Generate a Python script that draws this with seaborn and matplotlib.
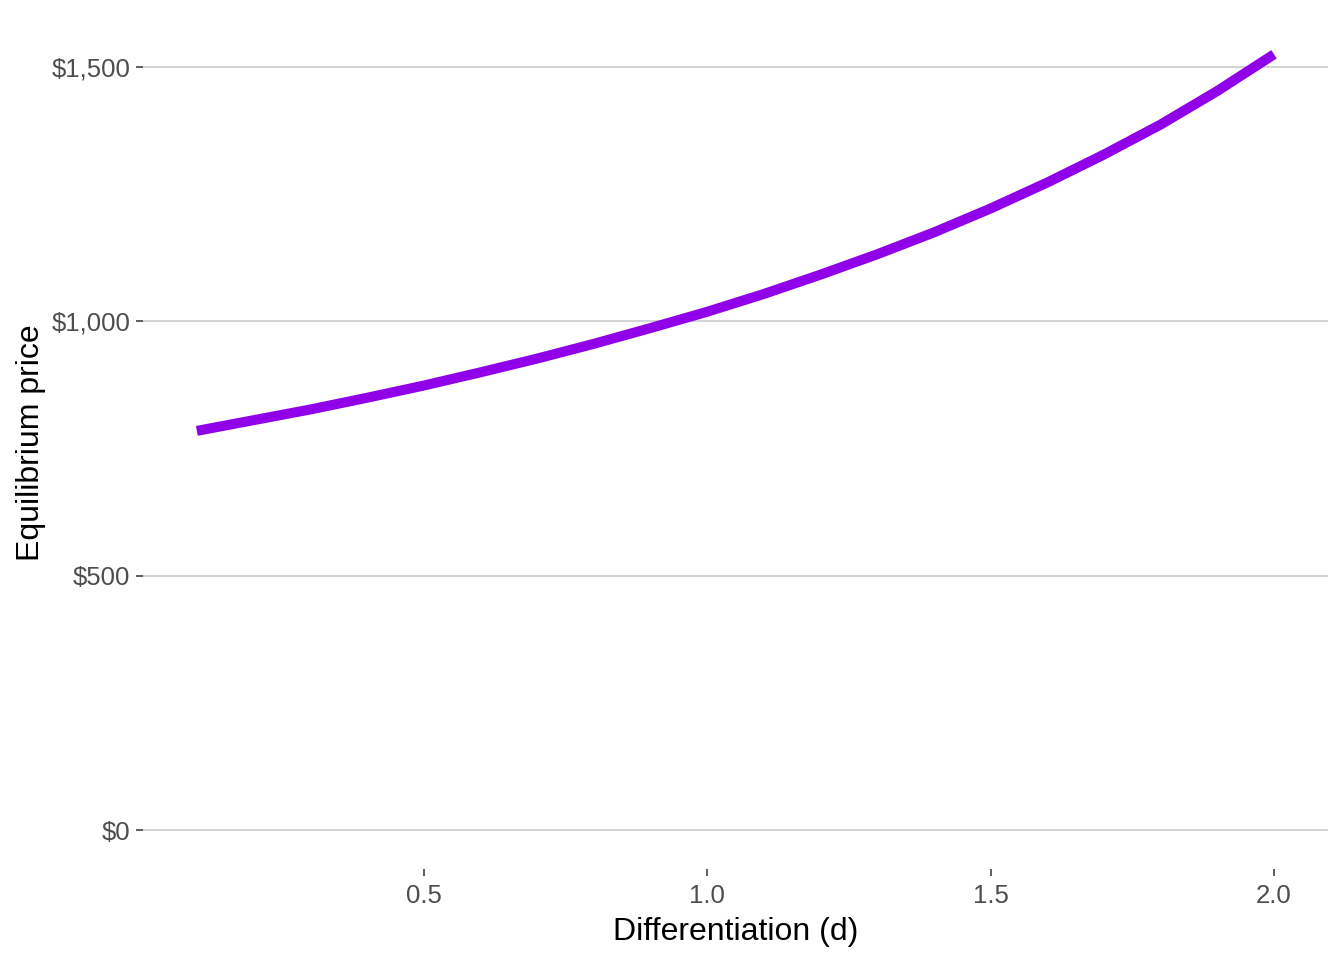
import pandas as pd
import matplotlib.pyplot as plt
import seaborn as sns
from matplotlib.ticker import FuncFormatter

# valeurs
differentiation = [0.1, 0.2, 0.3, 0.4, 0.5, 0.6, 0.7, 0.8, 0.9, 1.0,
                   1.1, 1.2, 1.3, 1.4, 1.5, 1.6, 1.7, 1.8, 1.9, 2.0]
price = [785, 806, 827, 850, 874, 900, 927, 956, 987, 1019,
         1054, 1092, 1132, 1175, 1222, 1273, 1328, 1387, 1453, 1525]

df = pd.DataFrame({"d": differentiation, "price": price})

sns.set_theme(style="white")
plt.rcParams["font.family"] = ["Liberation Sans", "DejaVu Sans"]

fig = plt.figure(figsize=(13.44, 9.6), dpi=100)
ax = fig.add_axes([0.1064, 0.0948, 0.8816, 0.8889])

sns.lineplot(data=df, x="d", y="price", color="#9000E8", linewidth=7.2, ax=ax)
for ln in ax.get_lines():
    ln.set_solid_capstyle("butt")
    ln.set_solid_joinstyle("round")

ax.set_xlim(0.005, 2.095)
ax.set_ylim(-76, 1601)
ax.set_xticks([0.5, 1.0, 1.5, 2.0])
ax.set_yticks([0, 500, 1000, 1500])
ax.yaxis.set_major_formatter(FuncFormatter(lambda v, p: f"${v:,.0f}"))

ax.grid(axis="y", color="#d3d3d3", linewidth=1.4)
ax.grid(axis="x", visible=False)
ax.set_axisbelow(True)
for s in ax.spines.values():
    s.set_visible(False)

ax.tick_params(axis="both", which="major", length=5, width=1.1, color="#333333",
               labelsize=18.5, labelcolor="#4d4d4d", pad=4, left=True, bottom=True)
ax.tick_params(axis="x", pad=5.5)

ax.set_xlabel("Differentiation (d)", fontsize=23, color="black", labelpad=7)
ax.set_ylabel("Equilibrium price", fontsize=23, color="black", labelpad=4)

plt.savefig("out.png", dpi=100)
plt.close()
